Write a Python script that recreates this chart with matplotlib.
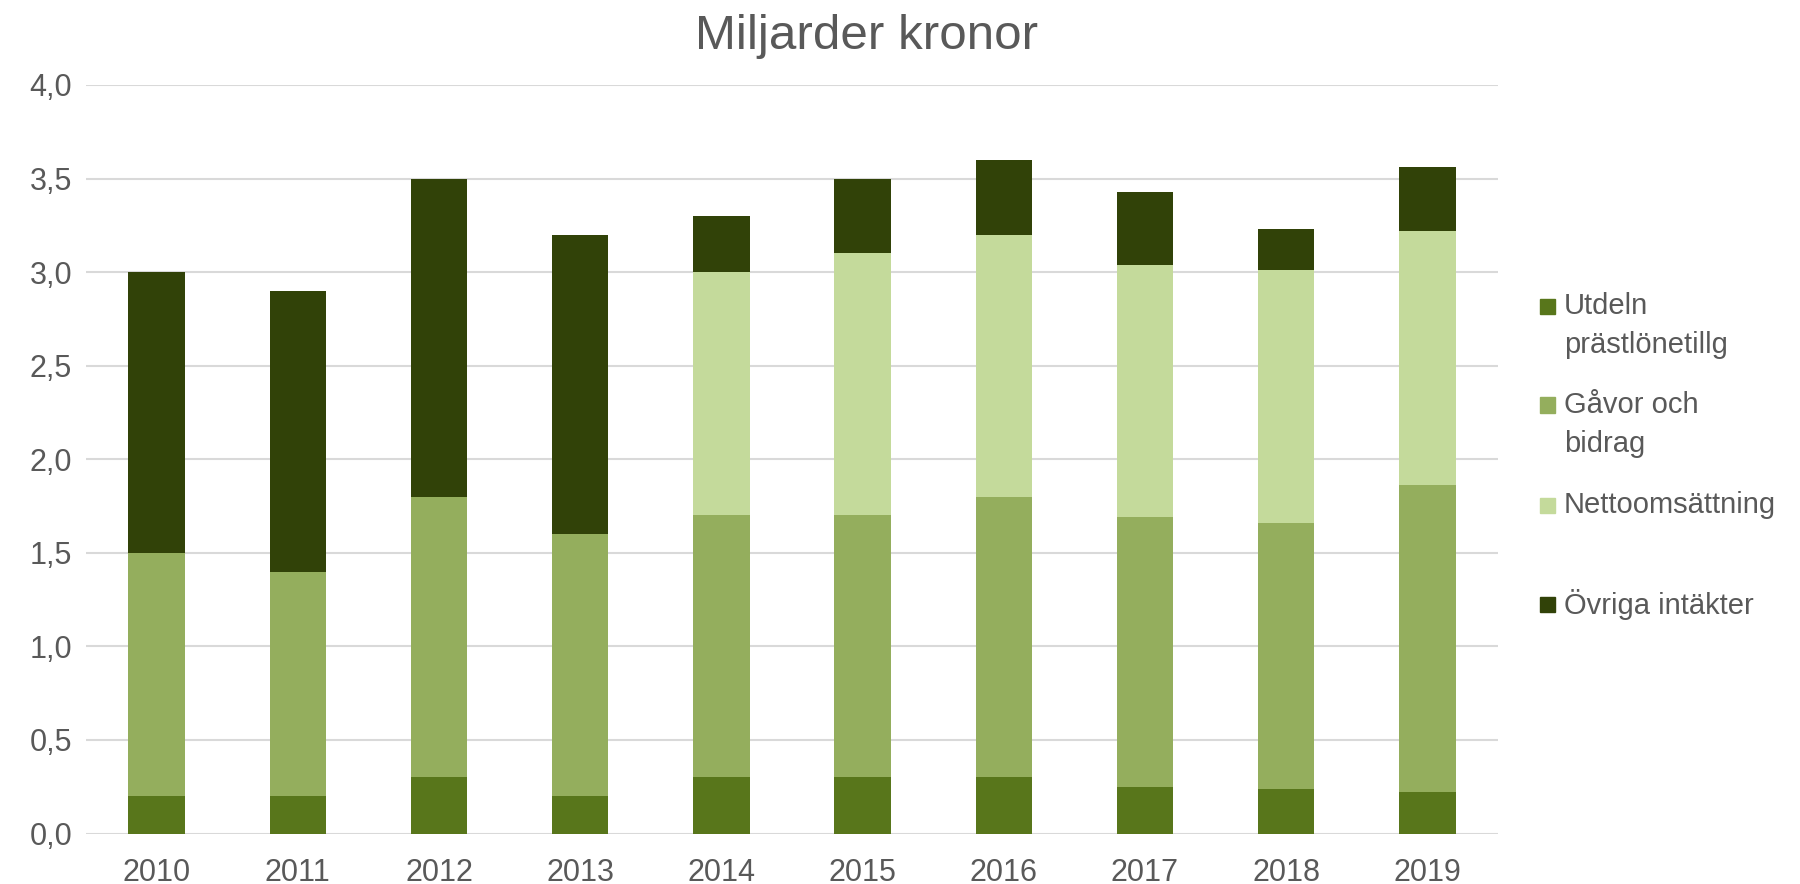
import numpy as np
import matplotlib
matplotlib.use("Agg")
import matplotlib.pyplot as plt
from matplotlib.patches import Rectangle

plt.rcParams['font.family'] = ['Liberation Sans', 'DejaVu Sans']

years = ["2010", "2011", "2012", "2013", "2014", "2015", "2016", "2017", "2018", "2019"]
utdeln = [0.2, 0.2, 0.3, 0.2, 0.3, 0.3, 0.3, 0.25, 0.24, 0.22]
gavor = [1.3, 1.2, 1.5, 1.4, 1.4, 1.4, 1.5, 1.44, 1.42, 1.64]
netto = [0.0, 0.0, 0.0, 0.0, 1.3, 1.4, 1.4, 1.35, 1.35, 1.36]
ovriga = [1.5, 1.5, 1.7, 1.6, 0.3, 0.4, 0.4, 0.39, 0.22, 0.34]

series = [utdeln, gavor, netto, ovriga]
labels = [["Utdeln", "prästlönetillg"], ["Gåvor och", "bidrag"], ["Nettoomsättning"], ["Övriga intäkter"]]
colors = ["#58761B", "#94AE5D", "#C4DA9B", "#314208"]
yticks = [0.0, 0.5, 1.0, 1.5, 2.0, 2.5, 3.0, 3.5, 4.0]

text_col = "#595959"
W, H = 1800, 884

fig = plt.figure(figsize=(18, 8.84), dpi=100)
ax = fig.add_axes([86 / W, 1 - 833.5 / H, (1498 - 86) / W, (833.5 - 85) / H])

x = np.arange(len(years))
bottom = np.zeros(len(years))
for vals, col in zip(series, colors):
    ax.bar(x, vals, width=0.4, bottom=bottom, color=col, zorder=3)
    bottom += np.array(vals)

ax.set_xlim(-0.5, len(years) - 0.5)
ax.set_ylim(0, 4)
ax.set_yticks(yticks)
ax.set_yticklabels([f"{v:.1f}".replace(".", ",") for v in yticks])
ax.set_xticks(x)
ax.set_xticklabels(years)
ax.tick_params(axis="both", length=0, labelsize=22, colors=text_col)
ax.tick_params(axis="x", pad=17.5)
ax.tick_params(axis="y", pad=10)
ax.grid(axis="y", color="#D9D9D9", linewidth=1.5, zorder=0)
for s in ax.spines.values():
    s.set_visible(False)

fig.text(867 / W, 1 - 49 / H, "Miljarder kronor", ha="center", va="baseline",
         fontsize=35.5, color=text_col)

# legend drawn by hand so the marker sits on the first text line
marker_y = [306, 405, 505, 604]
for lab, col, my in zip(labels, colors, marker_y):
    fig.add_artist(Rectangle((1540 / W, 1 - (my + 7.5) / H), 15 / W, 15 / H,
                             transform=fig.transFigure, color=col))
    for i, line in enumerate(lab):
        fig.text(1564 / W, 1 - (my + i * 39) / H, line, ha="left", va="center",
                 fontsize=21, color=text_col)

fig.savefig("out.png", dpi=100, facecolor="white")
